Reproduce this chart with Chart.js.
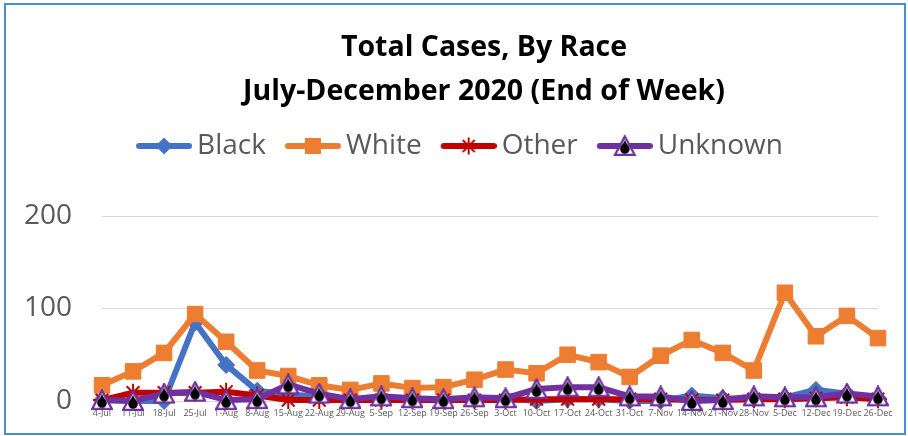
<!DOCTYPE html>
<html>
<head>
<meta charset="utf-8">
<script src="https://cdn.jsdelivr.net/npm/chart.js@4"></script>
<style>
  html, body { margin: 0; padding: 0; background: #fff; }
</style>
</head>
<body>
<canvas id="raceChart" width="908" height="436"></canvas>
<script>
var weeks = ['4-Jul', '11-Jul', '18-Jul', '25-Jul', '1-Aug', '8-Aug', '15-Aug', '22-Aug', '29-Aug',
  '5-Sep', '12-Sep', '19-Sep', '26-Sep', '3-Oct', '10-Oct', '17-Oct', '24-Oct', '31-Oct',
  '7-Nov', '14-Nov', '21-Nov', '28-Nov', '5-Dec', '12-Dec', '19-Dec', '26-Dec'];

var black   = [1, 0, 0, 85, 39, 11, 7, 5, 2, 2, 2, 2, 1, 3, 0, 2, 2, 0, 0, 6, 3, 2, 4, 12, 8, 3];
var white   = [17, 32, 52, 94, 64, 33, 27, 17, 12, 19, 14, 15, 23, 34, 30, 50, 42, 26, 49, 66, 52, 33, 117, 70, 92, 68];
var other   = [1, 9, 9, 9, 10, 6, 1, 1, 1, 1, 1, 1, 1, 1, 2, 2, 2, 2, 2, 1, 1, 2, 2, 3, 4, 2];
var unknown = [1, 0, 8, 10, 1, 2, 18, 8, 2, 5, 3, 2, 4, 3, 13, 15, 15, 5, 5, 0, 1, 5, 4, 4, 8, 5];

var yMin = 0, yMax = 200, yStep = 100;

var textGrey = '#595959';
var fontName = "'Open Sans', sans-serif";

// purple triangle with the black drop inside
function drawTriangle(g, cx, cy) {
  g.save();
  g.translate(cx - 11, cy - 11);
  g.beginPath();
  g.moveTo(11, 1.5); g.lineTo(20.8, 19.8); g.lineTo(1.2, 19.8); g.closePath();
  g.fillStyle = '#fff'; g.fill();
  g.lineWidth = 2.3; g.strokeStyle = '#7030a0'; g.stroke();
  g.beginPath();
  g.moveTo(11, 4.5);
  g.bezierCurveTo(12, 9, 15.8, 11, 15.8, 14);
  g.arc(11, 14, 4.8, 0, Math.PI);
  g.bezierCurveTo(6.2, 11, 10, 9, 11, 4.5);
  g.fillStyle = '#000'; g.fill();
  g.restore();
}

var triangleImg = document.createElement('canvas');
triangleImg.width = 22; triangleImg.height = 22;
drawTriangle(triangleImg.getContext('2d'), 11, 11);

function legendIcon(color, marker) {
  var c = document.createElement('canvas');
  c.width = 66; c.height = 24;
  var g = c.getContext('2d');
  g.strokeStyle = color; g.lineWidth = 6; g.lineCap = 'round';
  g.beginPath(); g.moveTo(13, 12); g.lineTo(63, 12); g.stroke();
  marker(g, 38, 12);
  return c;
}

var icons = [
  legendIcon('#4472c4', function(g, x, y) {
    g.beginPath(); g.moveTo(x - 8.5, y); g.lineTo(x, y - 8.5); g.lineTo(x + 8.5, y); g.lineTo(x, y + 8.5); g.closePath();
    g.fillStyle = '#4472c4'; g.fill();
  }),
  legendIcon('#ed7d31', function(g, x, y) {
    g.fillStyle = '#ed7d31'; g.fillRect(x - 8, y - 8, 16, 16);
  }),
  legendIcon('#c00000', function(g, x, y) {
    g.strokeStyle = '#c00000'; g.lineWidth = 2; g.lineCap = 'butt';
    g.beginPath();
    for (var a = 0; a < 4; a++) {
      var ang = a * Math.PI / 4;
      g.moveTo(x - 8.5 * Math.cos(ang), y - 8.5 * Math.sin(ang));
      g.lineTo(x + 8.5 * Math.cos(ang), y + 8.5 * Math.sin(ang));
    }
    g.stroke();
  }),
  legendIcon('#7030a0', drawTriangle)
];

var frame = {
  id: 'frame',
  beforeDraw: function(chart) {
    var g = chart.ctx;
    g.save();
    g.fillStyle = '#fff';
    g.fillRect(0, 0, chart.width, chart.height);
    g.strokeStyle = '#4a8fd6';
    g.lineWidth = 2;
    g.strokeRect(5, 4, 900, 430);
    g.restore();
  }
};

function nudge(box, dx) {
  var draw = box.draw;
  box.draw = function() {
    var g = this.ctx;
    g.save();
    g.translate(dx, 0);
    draw.apply(this, arguments);
    g.restore();
  };
}

// extra room under the legend, and small horizontal nudges like the original
var legendGap = {
  id: 'legendGap',
  beforeInit: function(chart) {
    var lg = chart.legend;
    var fit = lg.fit;
    lg.fit = function() { fit.call(this); this.height += 46; };
    nudge(lg, 7.5);
    if (chart.titleBlock) nudge(chart.titleBlock, -6);
  }
};

var ctx = document.getElementById('raceChart').getContext('2d');

var myChart = new Chart(ctx, {
  type: 'line',
  data: {
    labels: weeks,
    datasets: [
      {
        label: 'Black',
        data: black,
        borderColor: '#4472c4',
        backgroundColor: '#4472c4',
        borderWidth: 6,
        pointStyle: 'rectRot',
        pointRadius: 8.5,
        pointBorderWidth: 1,
        order: 4
      },
      {
        label: 'White',
        data: white,
        borderColor: '#ed7d31',
        backgroundColor: '#ed7d31',
        borderWidth: 6,
        pointStyle: 'rect',
        pointRadius: 11,
        pointBorderWidth: 1,
        order: 3
      },
      {
        label: 'Other',
        data: other,
        borderColor: '#c00000',
        backgroundColor: '#c00000',
        borderWidth: 6,
        pointStyle: 'star',
        pointRadius: 9,
        pointBorderWidth: 2,
        order: 2
      },
      {
        label: 'Unknown',
        data: unknown,
        borderColor: '#7030a0',
        backgroundColor: '#7030a0',
        borderWidth: 6,
        pointStyle: triangleImg,
        pointRadius: 10,
        order: 1
      }
    ]
  },
  options: {
    responsive: false,
    animation: false,
    clip: false,
    elements: { line: { tension: 0 } },
    layout: { padding: { left: 25, right: 30, top: 0, bottom: 0 } },
    plugins: {
      title: {
        display: true,
        fullSize: false,
        text: ['Total Cases, By Race', 'July-December 2020 (End of Week)'],
        color: '#000',
        font: { family: fontName, size: 28.5, weight: 'bold', lineHeight: 44 / 28.5 },
        padding: { top: 26, bottom: 0 }
      },
      legend: {
        display: true,
        labels: {
          usePointStyle: true,
          pointStyleWidth: 48,
          padding: 18,
          color: textGrey,
          font: { family: fontName, size: 28 },
          generateLabels: function(chart) {
            return chart.data.datasets.map(function(ds, i) {
              return {
                text: ds.label,
                pointStyle: icons[i],
                fillStyle: ds.borderColor,
                strokeStyle: ds.borderColor,
                lineWidth: 0,
                hidden: false,
                fontColor: textGrey,
                datasetIndex: i
              };
            });
          }
        }
      },
      tooltip: { enabled: false }
    },
    scales: {
      x: {
        grid: { display: false, drawTicks: false },
        border: { display: false },
        offset: false,
        afterFit: function(s) { s.height = 35; },
        ticks: {
          color: textGrey,
          font: { family: fontName, size: 9 },
          maxRotation: 0,
          autoSkip: false,
          padding: 7
        }
      },
      y: {
        min: yMin,
        max: yMax,
        grid: { color: '#d9d9d9', lineWidth: 1, drawTicks: false },
        border: { display: false },
        afterFit: function(s) {
          s.width = 77;
          s.paddingTop = 0;
          s.paddingBottom = 0;
        },
        ticks: {
          stepSize: yStep,
          color: textGrey,
          font: { family: fontName, size: 28 },
          padding: 30
        }
      }
    }
  },
  plugins: [frame, legendGap]
});
</script>
</body>
</html>
